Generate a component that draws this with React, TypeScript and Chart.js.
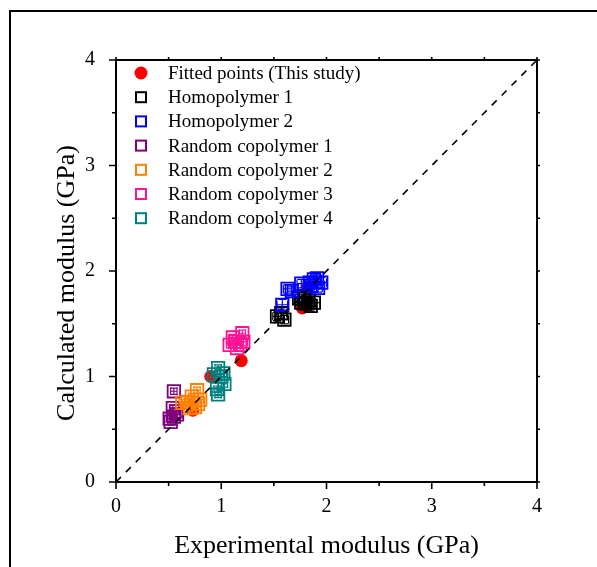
import React, { useEffect, useRef } from "react";
import { Chart, registerables } from "chart.js";

Chart.register(...registerables);

const FONT = "'Liberation Serif', 'Times New Roman', serif";

// ---- Data ----
const seriesNames = [
  "Fitted points (This study)",
  "Homopolymer 1",
  "Homopolymer 2",
  "Random copolymer 1",
  "Random copolymer 2",
  "Random copolymer 3",
  "Random copolymer 4",
];
const seriesColors = ["#FF0000", "#000000", "#0000FF", "#800080", "#FF8000", "#FF1493", "#008080"];

const xTitle = "Experimental modulus (GPa)";
const yTitle = "Calculated modulus (GPa)";

const fittedX = [0.73, 0.9, 1.19, 1.77, 1.82];
const fittedY = [0.68, 1.0, 1.15, 1.65, 1.84];

const homo1X = [1.53, 1.6, 1.57, 1.74, 1.79, 1.83, 1.88, 1.8, 1.85, 1.76];
const homo1Y = [1.57, 1.54, 1.6, 1.74, 1.76, 1.72, 1.7, 1.69, 1.67, 1.7];
const homo1Err = [0.04, 0.04, 0.05, 0.04, 0.05, 0.04, 0.06, 0.04, 0.05, 0.04];

const homo2X = [1.58, 1.63, 1.67, 1.76, 1.84, 1.88, 1.91, 1.95, 1.92, 1.85];
const homo2Y = [1.68, 1.83, 1.81, 1.88, 1.89, 1.92, 1.93, 1.89, 1.84, 1.86];
const homo2Err = [0.05, 0.04, 0.04, 0.04, 0.05, 0.04, 0.04, 0.05, 0.04, 0.04];

const rc1X = [0.55, 0.52, 0.55, 0.57, 0.54, 0.58, 0.51];
const rc1Y = [0.86, 0.57, 0.62, 0.67, 0.7, 0.64, 0.6];
const rc1Err = [0.03, 0.03, 0.03, 0.03, 0.03, 0.03, 0.03];

const rc2X = [0.63, 0.72, 0.77, 0.8, 0.75, 0.7, 0.78, 0.68];
const rc2Y = [0.75, 0.81, 0.87, 0.78, 0.71, 0.7, 0.74, 0.76];
const rc2Err = [0.03, 0.03, 0.03, 0.03, 0.03, 0.03, 0.03, 0.03];

const rc3X = [1.11, 1.2, 1.21, 1.08, 1.15, 1.18, 1.13];
const rc3Y = [1.37, 1.41, 1.33, 1.3, 1.27, 1.3, 1.33];
const rc3Err = [0.03, 0.03, 0.04, 0.03, 0.03, 0.03, 0.03];

const rc4X = [0.97, 1.02, 0.93, 1.0, 0.96, 0.97, 1.03];
const rc4Y = [1.08, 1.03, 1.02, 1.0, 0.88, 0.83, 0.93];
const rc4Err = [0.03, 0.03, 0.03, 0.03, 0.03, 0.03, 0.03];

const axisMin = 0;
const axisMax = 4;
const majorStep = 1;
const minorStep = 0.5;

const W = 597;
const H = 567;

function pts(xs: number[], ys: number[]) {
  return xs.map((x, i) => ({ x, y: ys[i] }));
}

const squareSeries = [
  { x: homo1X, y: homo1Y, err: homo1Err },
  { x: homo2X, y: homo2Y, err: homo2Err },
  { x: rc1X, y: rc1Y, err: rc1Err },
  { x: rc2X, y: rc2Y, err: rc2Err },
  { x: rc3X, y: rc3Y, err: rc3Err },
  { x: rc4X, y: rc4Y, err: rc4Err },
];

const errorBarPlugin = {
  id: "errorBars",
  afterDatasetDraw(chart: any, args: any) {
    const ds = chart.data.datasets[args.index];
    if (!ds.err) return;
    const { ctx, scales } = chart;
    const xs = scales.x;
    const ys = scales.y;
    ctx.save();
    ctx.strokeStyle = ds.borderColor;
    ctx.lineWidth = 1.2;
    const cap = 4;
    ds.data.forEach((p: any, i: number) => {
      const e = ds.err[i];
      const cx = xs.getPixelForValue(p.x);
      const cy = ys.getPixelForValue(p.y);
      const x1 = xs.getPixelForValue(p.x - e);
      const x2 = xs.getPixelForValue(p.x + e);
      const y1 = ys.getPixelForValue(p.y - e);
      const y2 = ys.getPixelForValue(p.y + e);
      ctx.beginPath();
      ctx.moveTo(x1, cy); ctx.lineTo(x2, cy);
      ctx.moveTo(x1, cy - cap); ctx.lineTo(x1, cy + cap);
      ctx.moveTo(x2, cy - cap); ctx.lineTo(x2, cy + cap);
      ctx.moveTo(cx, y1); ctx.lineTo(cx, y2);
      ctx.moveTo(cx - cap, y1); ctx.lineTo(cx + cap, y1);
      ctx.moveTo(cx - cap, y2); ctx.lineTo(cx + cap, y2);
      ctx.stroke();
    });
    ctx.restore();
  },
};

const framePlugin = {
  id: "frame",
  beforeDraw(chart: any) {
    const { ctx, width, height } = chart;
    ctx.save();
    ctx.fillStyle = "#fff";
    ctx.fillRect(0, 0, width, height);
    ctx.strokeStyle = "#000";
    ctx.lineWidth = 2;
    ctx.beginPath();
    ctx.moveTo(10, height + 5);
    ctx.lineTo(10, 11);
    ctx.lineTo(width + 5, 11);
    ctx.stroke();
    ctx.restore();
  },
  afterDraw(chart: any) {
    const { ctx, chartArea: a, scales } = chart;
    const xs = scales.x;
    const ys = scales.y;
    ctx.save();
    ctx.strokeStyle = "#000";
    ctx.lineWidth = 1.6;
    // ticks
    ctx.beginPath();
    for (let v = axisMin; v <= axisMax + 1e-9; v += minorStep) {
      const major = Math.abs(v / majorStep - Math.round(v / majorStep)) < 1e-9;
      const len = major ? 7 : 4;
      const px = xs.getPixelForValue(v);
      const py = ys.getPixelForValue(v);
      ctx.moveTo(px, a.bottom); ctx.lineTo(px, a.bottom + len);
      ctx.moveTo(a.left, py); ctx.lineTo(a.left - len, py);
      ctx.moveTo(px, a.top); ctx.lineTo(px, a.top - 3);
      ctx.moveTo(a.right, py); ctx.lineTo(a.right + 3, py);
    }
    ctx.stroke();
    // box
    ctx.lineWidth = 2;
    ctx.strokeRect(a.left, a.top, a.right - a.left, a.bottom - a.top);
    // y axis title (slightly below axis centre, as in the reference)
    ctx.save();
    ctx.translate(67, (a.top + a.bottom) / 2 + 12);
    ctx.rotate(-Math.PI / 2);
    ctx.font = `26px ${FONT}`;
    ctx.fillStyle = "#000";
    ctx.textAlign = "center";
    ctx.textBaseline = "middle";
    ctx.fillText(yTitle, 0, 0);
    ctx.restore();
    // legend
    const lx = a.left + 25;
    const tx = a.left + 52;
    let ly = a.top + 13;
    const step = 24.2;
    ctx.font = `19px ${FONT}`;
    ctx.textBaseline = "middle";
    ctx.textAlign = "left";
    seriesNames.forEach((name, i) => {
      const c = seriesColors[i];
      if (i === 0) {
        ctx.fillStyle = c;
        ctx.beginPath();
        ctx.arc(lx, ly, 6.5, 0, Math.PI * 2);
        ctx.fill();
      } else {
        ctx.strokeStyle = c;
        ctx.lineWidth = 2;
        ctx.strokeRect(lx - 5, ly - 5, 10, 10);
      }
      ctx.fillStyle = "#000";
      ctx.fillText(name, tx, ly + 1);
      ly += step;
    });
    ctx.restore();
  },
};

export default function App() {
  const ref = useRef<HTMLCanvasElement | null>(null);
  useEffect(() => {
    if (!ref.current) return;
    const datasets: any[] = [
      {
        type: "line",
        label: "y = x",
        data: [
          { x: axisMin, y: axisMin },
          { x: axisMax, y: axisMax },
        ],
        borderColor: "#000",
        borderWidth: 1.6,
        borderDash: [7, 7],
        pointRadius: 0,
        fill: false,
        order: 0,
      },
    ];
    squareSeries.forEach((s, i) => {
      datasets.push({
        type: "scatter",
        label: seriesNames[i + 1],
        data: pts(s.x, s.y),
        err: s.err,
        pointStyle: "rect",
        pointRadius: 8.8,
        pointBorderWidth: 1.8,
        borderColor: seriesColors[i + 1],
        backgroundColor: "rgba(0,0,0,0)",
        order: 1 + (6 - i),
      });
    });
    datasets.push({
      type: "scatter",
      label: seriesNames[0],
      data: pts(fittedX, fittedY),
      pointStyle: "circle",
      pointRadius: 6.5,
      borderWidth: 0,
      borderColor: seriesColors[0],
      backgroundColor: seriesColors[0],
      order: 20,
    });

    const chart = new Chart(ref.current, {
      type: "scatter",
      data: { datasets },
      options: {
        animation: false,
        responsive: false,
        events: [],
        layout: { padding: { top: 60, right: 60, left: 0, bottom: 0 } },
        plugins: { legend: { display: false }, tooltip: { enabled: false } },
        scales: {
          x: {
            type: "linear",
            min: axisMin,
            max: axisMax,
            ticks: { stepSize: majorStep, color: "#000", font: { family: FONT, size: 20 }, padding: 5 },
            grid: { display: false },
            border: { display: false },
            title: {
              display: true,
              text: xTitle,
              color: "#000",
              font: { family: FONT, size: 26 },
              padding: { top: 0, bottom: 5 },
            },
            afterFit: (s: any) => {
              s.height = 85;
            },
          },
          y: {
            type: "linear",
            min: axisMin,
            max: axisMax,
            ticks: { stepSize: majorStep, color: "#000", font: { family: FONT, size: 20 }, padding: 13 },
            grid: { display: false },
            border: { display: false },
            title: { display: false },
            afterFit: (s: any) => {
              s.width = 116;
            },
          },
        },
      } as any,
      plugins: [framePlugin, errorBarPlugin],
    });
    return () => chart.destroy();
  }, []);
  return (
    <canvas
      ref={ref}
      width={W}
      height={H}
      style={{ display: "block", position: "fixed", left: 0, top: 0, width: W, height: H }}
    />
  );
}
